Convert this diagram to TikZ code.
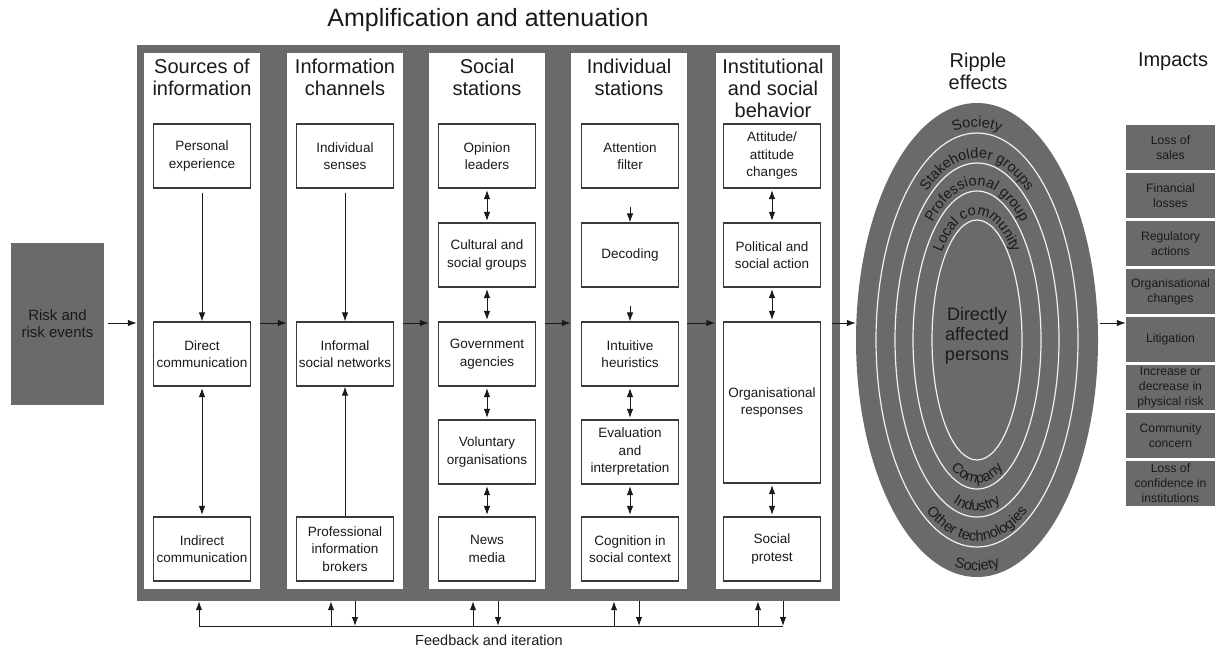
\documentclass[tikz,border=0pt]{standalone}
\usepackage{fontspec}
\setmainfont{Liberation Sans}
\usetikzlibrary{arrows.meta,shapes.geometric,decorations.text,calc}
\definecolor{fr}{HTML}{6A6A6A}
\definecolor{ink}{HTML}{1A1A1A}
\definecolor{bx}{HTML}{3A3A3A}
\newcommand\fsz[2]{\fontsize{#1}{#2}\selectfont}
\newcommand\ringfont{\fsz{14.5}{16}}
\begin{document}
\begin{tikzpicture}[x=1pt,y=-1pt,
  arr/.style={draw=ink, line width=1pt, -{Latex[length=9pt,width=6.5pt]}},
  darr/.style={draw=ink, line width=1pt, {Latex[length=9pt,width=6.5pt]}-{Latex[length=9pt,width=6.5pt]}, shorten <=1.5pt, shorten >=1.5pt},
  fbline/.style={draw=ink, line width=1pt},
  panel/.style={fill=white, minimum width=116pt, minimum height=536pt, inner sep=0},
  head/.style={align=center, font=\fsz{20}{22}, text=ink, inner sep=0},
  box/.style={draw=bx, line width=1.1pt, fill=white, minimum width=97pt, minimum height=64pt, inner sep=1pt, align=center, font=\fsz{13.5}{17.5}, text=ink},
  imp/.style={fill=fr, minimum width=89pt, minimum height=45pt, inner sep=0, align=center, font=\fsz{12.2}{15}, text=ink},
  ring/.style={draw=white!94!black, line width=1.2pt},
  rtext/.style={decorate, decoration={text along path, text align=center, text color=ink}}
]
\useasboundingbox (0,0) rectangle (1215,648);

% title and frame
\node[font=\fsz{25}{28}, text=ink, inner sep=0] (title) at (488,20) {Amplification and attenuation};
\node[fill=fr, minimum width=703pt, minimum height=556pt, inner sep=0] (frame) at (488.5,323) {};

% panels
\node[panel] (p1) at (202,321) {};
\node[panel] (p2) at (345,321) {};
\node[panel] (p3) at (487,321) {};
\node[panel] (p4) at (629,321) {};
\node[panel] (p5) at (773.5,321) {};

% headers
\node[head] (h1) at (202,77) {Sources of\\information};
\node[head] (h2) at (345,77) {Information\\channels};
\node[head] (h3) at (487,77) {Social\\stations};
\node[head] (h4) at (629,77) {Individual\\stations};
\node[head] (h5) at (773,88) {Institutional\\and social\\behavior};

% column 1
\node[box] (a1) at (202,156) {Personal\\experience};
\node[box] (a3) at (202,354) {Direct\\communication};
\node[box] (a5) at (202,549) {Indirect\\communication};
% column 2
\node[box] (b1) at (345,156) {Individual\\senses};
\node[box] (b3) at (345,354) {Informal\\social networks};
\node[box] (b5) at (345,549) {Professional\\information\\brokers};
% column 3
\node[box] (c1) at (487,156) {Opinion\\leaders};
\node[box] (c2) at (487,255) {Cultural and\\social groups};
\node[box] (c3) at (487,354) {Government\\agencies};
\node[box] (c4) at (487,452) {Voluntary\\organisations};
\node[box] (c5) at (487,549) {News\\media};
% column 4
\node[box] (d1) at (630,156) {Attention\\filter};
\node[box] (d2) at (630,255) {Decoding};
\node[box] (d3) at (630,354) {Intuitive\\heuristics};
\node[box] (d4) at (630,452) {Evaluation\\and\\interpretation};
\node[box] (d5) at (630,549) {Cognition in\\social context};
% column 5
\node[box] (e1) at (772,156) {Attitude/\\attitude\\changes};
\node[box] (e2) at (772,255) {Political and\\social action};
\node[box, minimum height=161pt] (e3) at (772,402.5) {Organisational\\responses};
\node[box] (e5) at (772,549) {Social\\protest};

% arrows inside columns
\draw[arr] ($(a1.south)+(0,4)$) -- (a3.north);
\draw[darr] (a3.south) -- (a5.north);
\draw[arr] ($(b1.south)+(0,4)$) -- (b3.north);
\draw[arr] (b5.north) -- (b3.south);
\draw[darr] (c1) -- (c2);
\draw[darr] (c2) -- (c3);
\draw[darr] (c3) -- (c4);
\draw[darr] (c4) -- (c5);
\draw[arr] ($(d1.south)+(0,18)$) -- (d2.north);
\draw[arr] ($(d2.south)+(0,18)$) -- (d3.north);
\draw[darr] (d3.south) -- (d4.north);
\draw[darr] (d4.south) -- (d5.north);
\draw[darr] (e1.south) -- (e2.north);
\draw[darr] (e2.south) -- (e3.north);
\draw[darr] (e3.south) -- (e5.north);

% risk box
\node[fill=fr, minimum width=93pt, minimum height=162pt, inner sep=0, align=center, font=\fsz{15}{17}, text=ink] (risk) at (57.5,324) {Risk and\\risk events};

% ripple ellipse
\node[head] (rh) at (978,71.5) {Ripple\\effects};
\node[ellipse, fill=fr, minimum width=242pt, minimum height=474pt, inner sep=0] (ell) at (977,340) {};
\begin{scope}[shift={(ell.center)}, y=1pt]
  \draw[ring] (0,0) ellipse [x radius=101, y radius=207];
  \draw[ring] (0,0) ellipse [x radius=82, y radius=177];
  \draw[ring] (0,0) ellipse [x radius=64, y radius=149];
  \draw[ring] (0,0) ellipse [x radius=45, y radius=120];
  \path[rtext, decoration={text={|\ringfont|Society}}] (-106,0) arc[start angle=180, end angle=0, x radius=106, y radius=213];
  \path[rtext, decoration={text={|\ringfont|Stakeholder groups}}] (-86.5,0) arc[start angle=180, end angle=0, x radius=86.5, y radius=182];
  \path[rtext, decoration={text={|\ringfont|Professional group}}] (-68.5,0) arc[start angle=180, end angle=0, x radius=68.5, y radius=154];
  \path[rtext, decoration={text={|\ringfont|Local community}}] (-49.5,0) arc[start angle=180, end angle=0, x radius=49.5, y radius=125];
  \path[rtext, decoration={text={|\ringfont|Company}}] (-60,0) arc[start angle=180, end angle=360, x radius=60, y radius=143];
  \path[rtext, decoration={text={|\ringfont|Industry}}] (-78,0) arc[start angle=180, end angle=360, x radius=78, y radius=171];
  \path[rtext, decoration={text={|\ringfont|Other technologies}}] (-97,0) arc[start angle=180, end angle=360, x radius=97, y radius=201];
  \path[rtext, decoration={text={|\ringfont|Society}}] (-116,0) arc[start angle=180, end angle=360, x radius=116, y radius=231];
\end{scope}
\node[align=center, font=\fsz{18}{20}, text=ink, inner sep=0] (dap) at (977,336) {Directly\\affected\\persons};

% impacts
\node[head] (ih) at (1173,62) {Impacts};
\node[imp] (i1) at (1170.5,147.5) {Loss of\\sales};
\node[imp] (i2) at (1170.5,195.5) {Financial\\losses};
\node[imp] (i3) at (1170.5,243.5) {Regulatory\\actions};
\node[imp] (i4) at (1170.5,291.5) {Organisational\\changes};
\node[imp] (i5) at (1170.5,339.5) {Litigation};
\node[imp] (i6) at (1170.5,387.5) {Increase or\\decrease in\\physical risk};
\node[imp] (i7) at (1170.5,435.5) {Community\\concern};
\node[imp] (i8) at (1170.5,483.5) {Loss of\\confidence in\\institutions};

% main flow
\coordinate (flow) at (0,323);
\draw[arr] ($(risk.east |- flow)+(4,0)$) -- (frame.west |- flow);
\draw[arr] (p1.east |- flow) -- (p2.west |- flow);
\draw[arr] (p2.east |- flow) -- (p3.west |- flow);
\draw[arr] (p3.east |- flow) -- (p4.west |- flow);
\draw[arr] (p4.east |- flow) -- (p5.west |- flow);
\draw[arr] (p5.east |- flow) -- (ell.west |- flow);
\draw[arr] ($(ell.east |- flow)+(2,0)$) -- (i5.west |- flow);

% feedback
\coordinate (u1) at (199,626);
\coordinate (u2) at (331,626);
\coordinate (u3) at (473,626);
\coordinate (u4) at (614,626);
\coordinate (u5) at (758,626);
\coordinate (w2) at (355,626);
\coordinate (w3) at (498,626);
\coordinate (w4) at (639,626);
\coordinate (w5) at (783,626);
\draw[fbline] (u1) -- (w5);
\foreach \u in {u1,u2,u3,u4,u5} { \draw[arr] (\u) -- (\u |- frame.south); }
\foreach \w in {w2,w3,w4,w5} { \draw[arr] (\w |- frame.south) -- (\w); }
\node[font=\fsz{14.5}{16}, text=ink, inner sep=0] (fbt) at (489,640) {Feedback and iteration};
\end{tikzpicture}
\end{document}
